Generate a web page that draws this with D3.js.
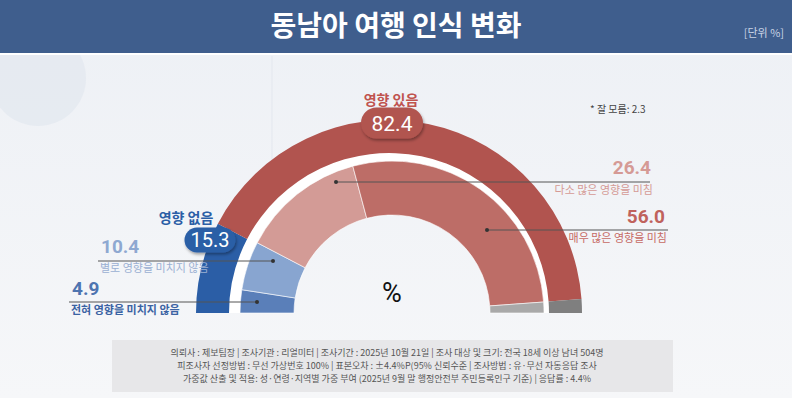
<!DOCTYPE html>
<html>
<head>
<meta charset="utf-8">
<script src="https://cdn.jsdelivr.net/npm/d3@7"></script>
<style>
  html, body { margin: 0; padding: 0; background: #fff; }
  svg { display: block; }
</style>
</head>
<body>
<div id="chart"></div>
<script>
// 바깥 고리: 영향 없음 / 영향 있음 / 잘 모름
const outerLabels = ["영향 없음", "영향 있음", "잘 모름"];
const outerValues = [15.3, 82.4, 2.3];
const outerColors = ["#2b5ea6", "#b1544f", "#7f7f7f"];

// 안쪽 고리: 세부 응답
const innerLabels = ["전혀 영향을 미치지 않음", "별로 영향을 미치지 않음", "다소 많은 영향을 미침", "매우 많은 영향을 미침", "잘 모름"];
const innerValues = [4.9, 10.4, 26.4, 56.0, 2.3];
const innerColors = ["#5a7fb9", "#88a5d0", "#d39b96", "#bd6d67", "#a9a9a9"];

const footerLines = [
  "의뢰사 : 제보팀장  | 조사기관 : 리얼미터  |  조사기간 : 2025년 10월 21일 | 조사 대상 및 크기: 전국 18세 이상 남녀 504명",
  "피조사자 선정방법 : 무선 가상번호 100% | 표본오차 : ±4.4%P(95% 신뢰수준 | 조사방법 : 유·무선 자동응답 조사",
  "가중값 산출 및 적용: 성·연령·지역별 가중 부여 (2025년 9월 말 행정안전부 주민등록인구 기준) | 응답률 : 4.4%"
];

const width = 792, height = 398;
const kr = "'Noto Sans CJK KR', 'Noto Sans', sans-serif";
const num = "Roboto, 'Noto Sans', sans-serif";

const svg = d3.select("#chart").append("svg")
  .attr("width", width).attr("height", height)
  .attr("viewBox", [0, 0, width, height]);

const defs = svg.append("defs");
const bg = defs.append("linearGradient").attr("id", "bg").attr("x1", 0).attr("y1", 0).attr("x2", 0).attr("y2", 1);
bg.append("stop").attr("offset", "0%").attr("stop-color", "#edf0f5");
bg.append("stop").attr("offset", "100%").attr("stop-color", "#f6f7f9");

const shadow = defs.append("filter").attr("id", "shadow").attr("x", "-30%").attr("y", "-30%").attr("width", "160%").attr("height", "180%");
shadow.append("feDropShadow").attr("dx", 1).attr("dy", 2).attr("stdDeviation", 1.5).attr("flood-color", "#000").attr("flood-opacity", 0.35);

// 배경
svg.append("rect").attr("width", width).attr("height", height).attr("fill", "url(#bg)");

// 장식 (왼쪽 위 원)
svg.append("circle").attr("cx", 38).attr("cy", 78).attr("r", 48).attr("fill", "#e4e8f0").attr("opacity", 0.8);
svg.append("line").attr("x1", 272).attr("y1", 56).attr("x2", 272).attr("y2", 160).attr("stroke", "#e3e7ee");

// 제목 바
svg.append("rect").attr("width", width).attr("height", 53).attr("fill", "#3f5e8d");
svg.append("rect").attr("y", 53).attr("width", width).attr("height", 2).attr("fill", "#ffffff");

svg.append("text")
  .attr("x", 396).attr("y", 36)
  .attr("text-anchor", "middle")
  .style("font-family", kr).style("font-size", "28px").style("font-weight", "bold")
  .attr("fill", "#fff")
  .text("동남아 여행 인식 변화");

svg.append("text")
  .attr("x", 784).attr("y", 37)
  .attr("text-anchor", "end")
  .style("font-family", kr).style("font-size", "11px")
  .attr("fill", "#c9d3e5")
  .text("[단위 %]");

// 반원 도넛
const cy = 313;
const outerC = { x: 389, r0: 160, r1: 193 };
const innerC = { x: 392, r0: 98, r1: 152 };

const pie = d3.pie().sort(null).value(d => d)
  .startAngle(-Math.PI / 2).endAngle(Math.PI / 2);

// 고리 사이 흰 띠
svg.append("path")
  .attr("transform", `translate(${outerC.x},${cy})`)
  .attr("d", d3.arc()({ innerRadius: innerC.r1 - 4, outerRadius: outerC.r0 + 1, startAngle: -Math.PI / 2, endAngle: Math.PI / 2 }))
  .attr("fill", "#ffffff");

const outerArc = d3.arc().innerRadius(outerC.r0).outerRadius(outerC.r1);
svg.append("g")
  .attr("transform", `translate(${outerC.x},${cy})`)
  .selectAll("path")
  .data(pie(outerValues))
  .join("path")
  .attr("d", outerArc)
  .attr("fill", (d, i) => outerColors[i]);

const innerArc = d3.arc().innerRadius(innerC.r0).outerRadius(innerC.r1);
const innerG = svg.append("g").attr("transform", `translate(${innerC.x},${cy})`);
innerG.selectAll("path")
  .data(pie(innerValues))
  .join("path")
  .attr("d", innerArc)
  .attr("fill", (d, i) => innerColors[i])
  .attr("stroke", "#fff").attr("stroke-width", 0.6);

// 지시선 (점에서 라벨까지)
const leaders = [
  { i: 0, x1: 257, x2: 69, y: 302 },
  { i: 1, x1: 273, x2: 98, y: 261 },
  { i: 2, x1: 336, x2: 650, y: 182 },
  { i: 3, x1: 487, x2: 668, y: 230 }
];
leaders.forEach(l => {
  svg.append("line")
    .attr("x1", l.x1).attr("y1", l.y).attr("x2", l.x2).attr("y2", l.y)
    .attr("stroke", "#555").attr("stroke-width", 1);
  svg.append("circle").attr("cx", l.x1).attr("cy", l.y).attr("r", 2).attr("fill", "#333");
});

// 큰 숫자 + 설명
const fmt = d3.format(".1f");
const detail = [
  { i: 1, x: 101, y: 253, anchor: "start", color: "#8ea8d1", sub: 272, subColor: "#9bb0d3" },
  { i: 0, x: 72, y: 295, anchor: "start", color: "#4e74b0", sub: 314, subColor: "#3b63a3" },
  { i: 2, x: 651, y: 174, anchor: "end", color: "#d59a95", sub: 194, subColor: "#d59a95" },
  { i: 3, x: 665, y: 223, anchor: "end", color: "#c0625c", sub: 242, subColor: "#c66a64" }
];
detail.forEach(d => {
  svg.append("text")
    .attr("x", d.x).attr("y", d.y).attr("text-anchor", d.anchor)
    .style("font-family", num).style("font-size", "19px").style("font-weight", "bold")
    .attr("fill", d.color)
    .text(fmt(innerValues[d.i]));
  svg.append("text")
    .attr("x", d.anchor === "start" ? d.x - 1 : d.x + 2).attr("y", d.sub).attr("text-anchor", d.anchor)
    .style("font-family", kr).style("font-size", "11px").style("font-weight", d.i === 0 ? "bold" : "normal")
    .attr("fill", d.subColor)
    .text(innerLabels[d.i]);
});

// 합계 말풍선
function bubble(cx, cyB, w, h, value, color, fontSize) {
  svg.append("rect")
    .attr("x", cx - w / 2).attr("y", cyB - h / 2)
    .attr("width", w).attr("height", h)
    .attr("rx", h / 2)
    .attr("fill", color)
    .attr("filter", "url(#shadow)");
  svg.append("text")
    .attr("x", cx).attr("y", cyB + fontSize * 0.36)
    .attr("text-anchor", "middle")
    .style("font-family", num).style("font-size", fontSize + "px")
    .attr("fill", "#fff")
    .text(fmt(value));
}

svg.append("text")
  .attr("x", 391).attr("y", 105).attr("text-anchor", "middle")
  .style("font-family", kr).style("font-size", "14px").style("font-weight", "bold")
  .attr("fill", "#c0534e")
  .text(outerLabels[1]);
bubble(392, 123, 62, 31, outerValues[1], "#b1544f", 21);

svg.append("text")
  .attr("x", 186).attr("y", 223).attr("text-anchor", "middle")
  .style("font-family", kr).style("font-size", "14px").style("font-weight", "bold")
  .attr("fill", "#2b5ea6")
  .text(outerLabels[0]);
bubble(210, 240, 51, 25, outerValues[0], "#2b5ea6", 20);

svg.append("text")
  .attr("x", 590).attr("y", 113)
  .style("font-family", kr).style("font-size", "10px")
  .attr("fill", "#444")
  .text("* 잘 모름: " + fmt(outerValues[2]));

svg.append("text")
  .attr("x", 392).attr("y", 302).attr("text-anchor", "middle")
  .style("font-family", num).style("font-size", "27px")
  .attr("fill", "#111")
  .text("%");

// 하단 조사 개요
svg.append("rect")
  .attr("x", 112).attr("y", 340).attr("width", 561).attr("height", 52)
  .attr("fill", "#e7e7e9");
svg.append("g")
  .selectAll("text")
  .data(footerLines)
  .join("text")
  .attr("x", 387).attr("y", (d, i) => 356 + i * 13)
  .attr("text-anchor", "middle")
  .style("font-family", kr).style("font-size", "9px")
  .attr("fill", "#555")
  .text(d => d);
</script>
</body>
</html>
